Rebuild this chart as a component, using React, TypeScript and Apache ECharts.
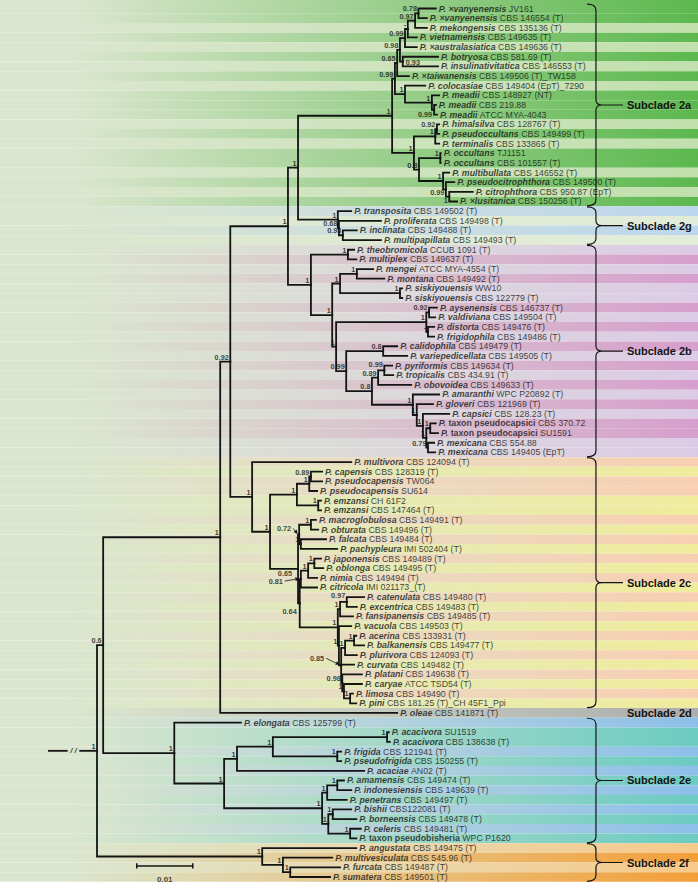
import React, { useEffect, useRef } from "react";
import * as echarts from "echarts";

// ---------- DATA ----------
const species: string[] = [
  "×vanyenensis", "×vanyenensis", "mekongensis", "vietnamensis", "×australasiatica", "botryosa", "insulinativitatica",
  "×taiwanensis", "colocasiae", "meadii", "meadii", "meadii", "himalsilva", "pseudoccultans", "terminalis", "occultans",
  "occultans", "multibullata", "pseudocitrophthora", "citrophthora", "×lusitanica",
  "transposita", "proliferata", "inclinata", "multipapillata",
  "theobromicola", "multiplex", "mengei", "montana", "siskiyouensis", "siskiyouensis", "aysenensis", "valdiviana",
  "distorta", "frigidophila", "calidophila", "variepedicellata", "pyriformis", "tropicalis", "obovoidea", "amaranthi",
  "gloveri", "capsici", "taxon pseudocapsici", "taxon pseudocapsici", "mexicana", "mexicana",
  "multivora", "capensis", "pseudocapensis", "pseudocapensis", "emzansi", "emzansi", "macroglobulosa", "obturata",
  "falcata", "pachypleura", "japonensis", "oblonga", "nimia", "citricola", "catenulata", "excentrica", "fansipanensis",
  "vacuola", "acerina", "balkanensis", "plurivora", "curvata", "platani", "caryae", "limosa", "pini",
  "oleae",
  "elongata", "acacivora", "acacivora", "frigida", "pseudofrigida", "acaciae", "amamensis", "indonesiensis",
  "penetrans", "bishii", "borneensis", "celeris", "taxon pseudobisheria",
  "angustata", "multivesiculata", "furcata", "sumatera",
];

const strains: string[] = [
  "JV161", "CBS 146554 (T)", "CBS 135136 (T)", "CBS 149635 (T)", "CBS 149636 (T)", "CBS 581.69 (T)", "CBS 146553 (T)",
  "CBS 149506 (T)_TW158", "CBS 149404 (EpT)_7290", "CBS 148927 (NT)", "CBS 219.88", "ATCC MYA-4043", "CBS 128767 (T)",
  "CBS 149499 (T)", "CBS 133865 (T)", "TJ1151", "CBS 101557 (T)", "CBS 146552 (T)", "CBS 149500 (T)", "CBS 950.87 (EpT)",
  "CBS 150256 (T)",
  "CBS 149502 (T)", "CBS 149498 (T)", "CBS 149488 (T)", "CBS 149493 (T)",
  "CCUB 1091 (T)", "CBS 149637 (T)", "ATCC MYA-4554 (T)", "CBS 149492 (T)", "WW10", "CBS 122779 (T)", "CBS 146737 (T)",
  "CBS 149504 (T)", "CBS 149476 (T)", "CBS 149486 (T)", "CBS 149479 (T)", "CBS 149505 (T)", "CBS 149634 (T)",
  "CBS 434.91 (T)", "CBS 149633 (T)", "WPC P20892 (T)", "CBS 121969 (T)", "CBS 128.23 (T)", "CBS 370.72", "SU1591",
  "CBS 554.88", "CBS 149405 (EpT)",
  "CBS 124094 (T)", "CBS 128319 (T)", "TW064", "SU614", "CH 61F2", "CBS 147464 (T)", "CBS 149491 (T)", "CBS 149496 (T)",
  "CBS 149484 (T)", "IMI 502404 (T)", "CBS 149489 (T)", "CBS 149495 (T)", "CBS 149494 (T)", "IMI 021173_(T)",
  "CBS 149480 (T)", "CBS 149483 (T)", "CBS 149485 (T)", "CBS 149503 (T)", "CBS 133931 (T)", "CBS 149477 (T)",
  "CBS 124093 (T)", "CBS 149482 (T)", "CBS 149638 (T)", "ATCC TSD54 (T)", "CBS 149490 (T)", "CBS 181.25 (T)_CH 45F1_Ppi",
  "CBS 141871 (T)",
  "CBS 125799 (T)", "SU1519", "CBS 138638 (T)", "CBS 121941 (T)", "CBS 150255 (T)", "AN02 (T)", "CBS 149474 (T)",
  "CBS 149639 (T)", "CBS 149497 (T)", "CBS122081 (T)", "CBS 149478 (T)", "CBS 149481 (T)", "WPC P1620",
  "CBS 149475 (T)", "CBS 545.96 (T)", "CBS 149487 (T)", "CBS 149501 (T)",
];

// depth of each tip from the root (x 10^-3 substitutions per site)
const tipDepth: number[] = [
  60.5, 58.9, 58.9, 57.1, 57.1, 60.9, 60.9, 55.7, 58.6, 61.1, 60.5, 60.7, 61.1, 61.1, 61.1, 61.4, 61.4, 62.9, 63.8, 67.1, 64.3,
  45.4, 50.7, 46.4, 50.7,
  45.9, 46.3, 49.3, 51.3, 54.5, 54.5, 60.7, 60.4, 60.2, 60.2, 53.6, 55.4, 52.7, 52.9, 56.1, 61.1, 60.0, 62.9, 60.5, 60.9,
  60.2, 60.4,
  45.4, 40.2, 40.2, 39.3, 40.0, 40.0, 39.1, 39.5, 40.9, 42.9, 40.0, 40.4, 39.3, 39.3, 47.7, 46.4, 45.7, 45.4, 46.3, 47.7,
  46.4, 45.9, 47.3, 47.3, 45.7, 46.3,
  53.6,
  25.7, 52.1, 52.3, 43.6, 43.6, 47.7, 44.1, 45.4, 44.6, 45.4, 46.3, 47.1, 46.3,
  46.3, 42.0, 43.4, 41.6,
];

// internal nodes: [id, depth from root (x 10^-3 subst./site), posterior support, children (tip rows are numbers)]
const nodes: [string, number, string, (string | number)[]][] = [
  ["root", 0, "1", ["N06", "F1"]],
  ["N06", 1.1, "0.6", ["A", "E2"]],
  ["A", 22.0, "1", ["B", 74]],
  ["B", 23.8, "0.92", ["C", "N2c"]],
  ["C", 34.1, "1", ["D", "E"]],
  ["D", 35.9, "1", ["R2a", "G"]],
  ["R2a", 52.7, "1", ["V7", "NB"]],
  ["V7", 53.2, "0.99", ["V6", "Ncm"]],
  ["V6", 53.6, "0.65", ["V5", 8]],
  ["V5", 54.1, "0.98", ["V4", "Nb"]],
  ["V4", 55.0, "0.99", ["V3", 5]],
  ["V3", 55.5, "-", ["V2", 4]],
  ["V2", 56.8, "0.97", ["V1", 3]],
  ["V1", 57.4, "0.78", [1, 2]],
  ["Nb", 54.6, "0.93", [6, 7]],
  ["Ncm", 55.0, "1", [9, "M"]],
  ["M", 59.8, "1", [10, "Mi"]],
  ["Mi", 60.2, "0.99", [11, 12]],
  ["NB", 56.6, "1", ["Hb", "N08"]],
  ["Hb", 60.4, "1", ["Ha", 15]],
  ["Ha", 60.7, "0.92", [13, 14]],
  ["N08", 57.5, "0.8", ["Occ", "Mult"]],
  ["Occ", 61.3, "1", [16, 17]],
  ["Mult", 61.8, "1", [18, "M2"]],
  ["M2", 62.3, "0.99", [19, "M3"]],
  ["M3", 62.9, "1", [20, 21]],
  ["G", 43.0, "1", [22, "G2"]],
  ["G2", 43.2, "0.68", [23, "G3"]],
  ["G3", 43.9, "0.93", [24, 25]],
  ["E", 38.2, "1", ["T1", "R2"]],
  ["T1", 44.8, "1", [26, 27]],
  ["R2", 42.0, "1", ["MS", "R3"]],
  ["MS", 43.4, "1", ["Mm", "Sk"]],
  ["Mm", 46.4, "1", [28, 29]],
  ["Sk", 54.1, "1", [30, 31]],
  ["R3", 42.7, "1", ["Ay", "R4"]],
  ["Ay", 58.8, "1", ["Av", "Df"]],
  ["Av", 59.3, "0.92", [32, 33]],
  ["Df", 59.1, "-", [34, 35]],
  ["R4", 44.5, "0.99", ["Cv", "P08"]],
  ["Cv", 51.1, "0.8", [36, 37]],
  ["P08", 49.1, "0.8", ["Pto", "Ca"]],
  ["Pto", 50.2, "0.89", ["Pt", 40]],
  ["Pt", 51.3, "0.99", [38, 39]],
  ["Ca", 56.4, "1", [41, "Cb"]],
  ["Cb", 57.1, "1", [42, "Cc"]],
  ["Cc", 58.2, "1", [43, "Cd"]],
  ["Cd", 58.8, "1", ["Tp", "Mx"]],
  ["Tp", 59.5, "1", [44, 45]],
  ["Mx", 59.1, "0.79", [46, 47]],
  ["N2c", 27.7, "1", [48, "Q1"]],
  ["Q1", 30.9, "1", ["Q2", "Q3"]],
  ["Q2", 35.7, "1", ["Cp2", "Em"]],
  ["Cp2", 37.9, "1", ["Cp1", 51]],
  ["Cp1", 38.2, "0.89", [49, 50]],
  ["Em", 39.5, "1", [52, 53]],
  ["Q3", 35.9, "0.65", ["MF", "Q4"]],
  ["MF", 36.1, "0.72", ["Mo", "Fp"]],
  ["Mo", 38.2, "1", [54, 55]],
  ["Fp", 36.4, "1", [56, 57]],
  ["Q4", 36.2, "0.64", ["Jonc", "Z"]],
  ["Jonc", 36.4, "0.81", ["Jon", 61]],
  ["Jon", 37.7, "1", ["Jo", 60]],
  ["Jo", 38.8, "1", [58, 59]],
  ["Z", 43.0, "1", ["Cef", "W1"]],
  ["Cef", 43.4, "1", ["Ce", 64]],
  ["Ce", 44.6, "0.97", [62, 63]],
  ["W1", 43.2, "1", [65, "W2"]],
  ["W2", 43.6, "0.85", ["Abp", 69, "W3"]],
  ["Abp", 44.3, "1", ["Ab", 68]],
  ["Ab", 45.9, "1", [66, 67]],
  ["W3", 43.8, "0.98", [70, "W4"]],
  ["W4", 44.1, "1", [71, "Lp"]],
  ["Lp", 45.2, "1", [72, 73]],
  ["E2", 13.8, "1", [75, "E3"]],
  ["E3", 22.7, "1", ["E4", "E5"]],
  ["E4", 25.0, "1", ["E6", 80]],
  ["E6", 31.4, "1", ["Ac", "Fr"]],
  ["Ac", 51.8, "1", [76, 77]],
  ["Fr", 42.9, "1", [78, 79]],
  ["E5", 40.2, "1", ["Aip", "Bbc"]],
  ["Aip", 41.1, "1", ["Ai1", 83]],
  ["Ai1", 42.9, "1", [81, 82]],
  ["Bbc", 41.3, "1", ["Bb1", "Cp2e"]],
  ["Bb1", 42.1, "1", [84, 85]],
  ["Cp2e", 45.2, "1", [86, 87]],
  ["F1", 29.5, "1", [88, "F2"]],
  ["F2", 33.2, "1", [89, "F3"]],
  ["F3", 34.5, "1", [90, 91]],
];

const subcladeNames = ["Subclade 2a", "Subclade 2g", "Subclade 2b", "Subclade 2c", "Subclade 2d", "Subclade 2e", "Subclade 2f"];
const subcladeFirst = [1, 22, 26, 48, 74, 75, 88];
const subcladeLast = [21, 25, 47, 73, 74, 87, 91];

const scaleBarValue = 0.01; // substitutions per site

// ---------- STYLE / LAYOUT ----------
const subcladeColors = [
  ["#5cb84e", "#c1e0ad"],
  ["#bcd6ee", "#e2ecd8"],
  ["#dccbe6", "#d69fcd"],
  ["#f8cfb2", "#f0ec9c"],
  ["#adadad", "#adadad"],
  ["#8dbfea", "#6ccbc2"],
  ["#f7c98b", "#f39f38"],
];
const LEFT_TINT = "#dbe6ce";
const FONT = '"Liberation Sans", Arial, Helvetica, sans-serif';
const INK = "#141414";
const W = 698;
const H = 890;
const X_MIN = -17.3214;
const X_MAX = 107.3214;
const Y_MIN = 0.11917;
const Y_MAX = 92.3472;
const BRACE_X = 89.1;
const STUB = [-8.6, -5.4, -3.0];
const SCALE_X = 7.1;
const SCALE_Y = 89.85;
const LEAF_FS = 8.8;
const SUP_FS = 7.3;
// support labels placed beside their node (px offsets, label centre), some with an arrow to the node
const LABEL_BESIDE: Record<string, { dx: number; dy: number; arrow: boolean }> = {
  Nb: { dx: 3, dy: 0.5, arrow: false },
  Mi: { dx: -2, dy: 5, arrow: false },
  M2: { dx: -1.5, dy: 3, arrow: false },
  M3: { dx: -1.5, dy: 4, arrow: false },
  Pt: { dx: -1.5, dy: -6, arrow: false },
  Ce: { dx: -1.5, dy: -6, arrow: false },
  Q3: { dx: -6, dy: 5, arrow: false },
  Q4: { dx: -3, dy: 8, arrow: false },
  MF: { dx: -8, dy: -6, arrow: true },
  Jonc: { dx: -18, dy: 2, arrow: true },
  W2: { dx: -17, dy: -7, arrow: true },
};

function buildOption() {
  const nodeMap = new Map<string, any>();
  nodes.forEach((n) => nodeMap.set(n[0], n));
  const yCache = new Map<string, number>();
  const yOf = (c: string | number): number => {
    if (typeof c === "number") return c;
    if (yCache.has(c)) return yCache.get(c) as number;
    const ch = nodeMap.get(c)[3];
    const y = (yOf(ch[0]) + yOf(ch[ch.length - 1])) / 2;
    yCache.set(c, y);
    return y;
  };
  const dOf = (c: string | number): number => (typeof c === "number" ? tipDepth[c - 1] : nodeMap.get(c)[1]);

  const branches: any[] = [];
  nodes.forEach(([id, d, , ch]) => {
    const ny = yOf(id);
    ch.forEach((c) => {
      const cy = yOf(c);
      branches.push({ coords: [[d, ny], [d, cy], [dOf(c), cy]] });
    });
  });
  const rootY = yOf("root");
  branches.push({ coords: [[STUB[0], rootY], [STUB[1], rootY]] });
  branches.push({ coords: [[STUB[2], rootY], [0, rootY]] });

  const scaleLen = scaleBarValue * 1000;
  const scaleLines = [
    { coords: [[SCALE_X, SCALE_Y], [SCALE_X + scaleLen, SCALE_Y]] },
    { coords: [[SCALE_X, SCALE_Y - 0.28], [SCALE_X, SCALE_Y + 0.28]] },
    { coords: [[SCALE_X + scaleLen, SCALE_Y - 0.28], [SCALE_X + scaleLen, SCALE_Y + 0.28]] },
  ];

  // background stripes (alternate per species inside each subclade)
  const bands: any[] = [];
  subcladeNames.forEach((_, k) => {
    let idx = 0;
    for (let r = subcladeFirst[k]; r <= subcladeLast[k]; r++) {
      if (r > subcladeFirst[k] && species[r - 1] !== species[r - 2]) idx = 1 - idx;
      const color = new echarts.graphic.LinearGradient(0, 0, 1, 0, [
        { offset: 0, color: LEFT_TINT },
        { offset: 0.1, color: LEFT_TINT },
        { offset: 1, color: subcladeColors[k][idx] },
      ]);
      bands.push([{ yAxis: r === 1 ? Y_MIN : r - 0.5, itemStyle: { color } }, { yAxis: r + 0.5 }]);
    }
  });

  const supportData = nodes
    .filter((n) => n[2] !== "")
    .map((n) => {
      const item: any = { value: [n[1], yOf(n[0])], name: n[2] };
      const b = LABEL_BESIDE[n[0]];
      if (b) {
        item.label = {
          position: [b.dx, b.dy],
          align: b.dx > 0 ? "left" : "right",
          verticalAlign: "middle",
        };
      }
      return item;
    });

  const arrowData = nodes
    .filter((n) => LABEL_BESIDE[n[0]] && LABEL_BESIDE[n[0]].arrow)
    .map((n) => [n[1], yOf(n[0]), LABEL_BESIDE[n[0]].dx, LABEL_BESIDE[n[0]].dy]);

  const plainLabel = { textBorderWidth: 0, textBorderColor: "transparent", textShadowBlur: 0 };

  return {
    animation: false,
    backgroundColor: "#ffffff",
    grid: { left: 0, right: 0, top: 0, bottom: 0 },
    xAxis: { type: "value", min: X_MIN, max: X_MAX, show: false },
    yAxis: { type: "value", inverse: true, min: Y_MIN, max: Y_MAX, show: false },
    series: [
      {
        type: "scatter",
        z: 0,
        silent: true,
        symbolSize: 0,
        data: [[0, 1]],
        markArea: { silent: true, label: { show: false }, data: bands },
      },
      {
        type: "lines",
        coordinateSystem: "cartesian2d",
        polyline: true,
        silent: true,
        z: 2,
        lineStyle: { color: INK, width: 1.8, opacity: 1, cap: "square", join: "miter" },
        data: branches,
      },
      {
        type: "lines",
        coordinateSystem: "cartesian2d",
        polyline: true,
        silent: true,
        z: 2,
        lineStyle: { color: INK, width: 1.5, opacity: 1 },
        data: scaleLines,
      },
      {
        type: "scatter",
        z: 4,
        silent: true,
        symbolSize: 0,
        data: species.map((s, i) => [tipDepth[i], i + 1]),
        label: {
          show: true,
          position: "right",
          distance: 3,
          color: INK,
          fontFamily: FONT,
          fontSize: LEAF_FS,
          ...plainLabel,
          formatter: (p: any) => {
            const i = p.dataIndex;
            const sp = species[i];
            if (sp.indexOf("taxon ") === 0) return `{i|P.} {b|${sp}} {n|${strains[i]}}`;
            return `{i|P. ${sp}} {n|${strains[i]}}`;
          },
          rich: {
            i: { fontFamily: FONT, fontSize: LEAF_FS, fontStyle: "italic", fontWeight: "bold", color: INK },
            b: { fontFamily: FONT, fontSize: LEAF_FS, fontWeight: "bold", color: INK },
            n: { fontFamily: FONT, fontSize: LEAF_FS, fontWeight: "normal", color: INK },
          },
        },
      },
      {
        type: "scatter",
        z: 4,
        silent: true,
        symbolSize: 0,
        data: supportData,
        label: {
          show: true,
          position: [-1.5, -1],
          align: "right",
          verticalAlign: "bottom",
          formatter: "{b}",
          color: INK,
          fontFamily: FONT,
          fontSize: SUP_FS,
          fontWeight: "bold",
          ...plainLabel,
        },
      },
      {
        type: "custom",
        coordinateSystem: "cartesian2d",
        z: 4,
        silent: true,
        data: arrowData,
        renderItem: (params: any, api: any) => {
          const p = api.coord([api.value(0), api.value(1)]);
          const dx = api.value(2);
          const dy = api.value(3);
          const sx = p[0] + dx + 2;
          const sy = p[1] + dy;
          const ex = p[0] - 1.5;
          const ey = p[1] - 0.5;
          const len = Math.hypot(ex - sx, ey - sy) || 1;
          const ux = (ex - sx) / len;
          const uy = (ey - sy) / len;
          const hl = 4;
          const hw = 2;
          const bx = ex - ux * hl;
          const by = ey - uy * hl;
          return {
            type: "group",
            children: [
              { type: "line", shape: { x1: sx, y1: sy, x2: bx, y2: by }, style: { stroke: INK, lineWidth: 0.8 } },
              {
                type: "polygon",
                shape: { points: [[ex, ey], [bx - uy * hw, by + ux * hw], [bx + uy * hw, by - ux * hw]] },
                style: { fill: INK },
              },
            ],
          };
        },
      },
      {
        type: "scatter",
        z: 4,
        silent: true,
        symbolSize: 0,
        data: [{ value: [(STUB[1] + STUB[2]) / 2, rootY], name: "/ /" }],
        label: {
          show: true,
          position: [0, 0],
          align: "center",
          verticalAlign: "middle",
          formatter: "{b}",
          color: INK,
          fontFamily: FONT,
          fontSize: 8,
          fontWeight: "bold",
          fontStyle: "italic",
          ...plainLabel,
        },
      },
      {
        type: "scatter",
        z: 4,
        silent: true,
        symbolSize: 0,
        data: [{ value: [SCALE_X + scaleLen / 2, SCALE_Y], name: String(scaleBarValue) }],
        label: {
          show: true,
          position: "bottom",
          distance: 10,
          formatter: "{b}",
          color: INK,
          fontFamily: FONT,
          fontSize: 8,
          fontWeight: "bold",
          ...plainLabel,
        },
      },
      {
        type: "custom",
        coordinateSystem: "cartesian2d",
        z: 5,
        silent: true,
        data: subcladeNames.map((_, k) => [subcladeFirst[k], subcladeLast[k], k]),
        renderItem: (params: any, api: any) => {
          const first = api.value(0);
          const last = api.value(1);
          const k = api.value(2);
          const top = api.coord([BRACE_X, first - 0.45]);
          const bot = api.coord([BRACE_X, last + 0.45]);
          const x0 = top[0];
          const y1 = top[1];
          const y2 = bot[1];
          const ym = (y1 + y2) / 2;
          const children: any[] = [];
          if (last > first) {
            const d =
              `M${x0 - 9} ${y1} Q${x0} ${y1} ${x0} ${y1 + 6} L${x0} ${ym - 5} Q${x0} ${ym} ${x0 + 6} ${ym} ` +
              `Q${x0} ${ym} ${x0} ${ym + 5} L${x0} ${y2 - 6} Q${x0} ${y2} ${x0 - 9} ${y2} ` +
              `M${x0 + 6} ${ym} L${x0 + 27} ${ym}`;
            children.push({
              type: "path",
              shape: { pathData: d },
              style: { stroke: INK, fill: "none", lineWidth: 1.2 },
            });
          }
          children.push({
            type: "text",
            style: {
              text: subcladeNames[k],
              x: x0 + 31,
              y: ym,
              fill: INK,
              font: `bold 11px ${FONT}`,
              align: "left",
              verticalAlign: "middle",
            },
          });
          return { type: "group", children };
        },
      },
    ],
  };
}

export default function App() {
  const ref = useRef<HTMLDivElement>(null);
  useEffect(() => {
    const chart = echarts.init(ref.current as HTMLDivElement, null, { renderer: "svg" });
    chart.setOption(buildOption() as any);
    return () => chart.dispose();
  }, []);
  return <div ref={ref} style={{ position: "fixed", left: 0, top: 0, width: W, height: H }} />;
}
